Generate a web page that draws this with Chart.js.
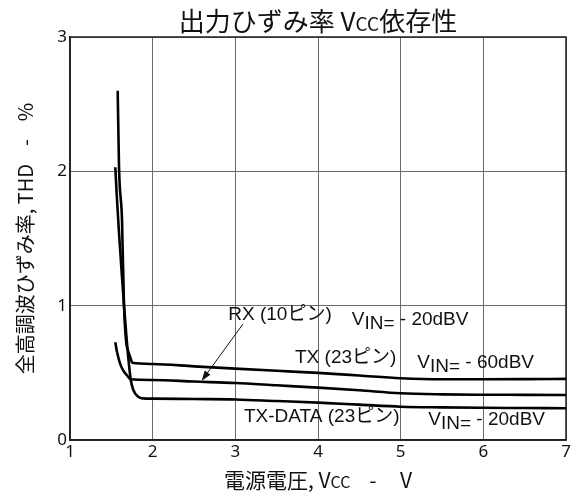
<!DOCTYPE html>
<html>
<head>
<meta charset="utf-8">
<script src="https://cdn.jsdelivr.net/npm/chart.js@4/dist/chart.umd.min.js"></script>
<style>
  html, body { margin: 0; padding: 0; background: #fff; }
  canvas { display: block; }
</style>
</head>
<body>
<canvas id="thd" width="577" height="495"></canvas>
<script>
// Axis ticks
const xTickValues = [1, 2, 3, 4, 5, 6, 7];
const yTickValues = [0, 1, 2, 3];

// TX (23 pin), VIN = -60 dBV
const txVcc = [1.577, 1.593, 1.629, 1.653, 1.677, 1.708, 1.732, 1.754, 2.0, 2.5, 3.0, 3.5, 4.0, 4.5, 5.0, 5.5, 6.0, 6.5, 7.0];
const txThd = [2.60, 2.03, 1.64, 1.005, 0.744, 0.655, 0.61, 0.575, 0.566, 0.548, 0.531, 0.515, 0.50, 0.48, 0.46, 0.452, 0.452, 0.453, 0.455];

// RX (10 pin), VIN = -20 dBV
const rxVcc = [1.548, 1.569, 1.605, 1.641, 1.686, 1.734, 2.0, 2.5, 3.0, 3.5, 4.0, 4.5, 5.0, 5.5, 6.0, 6.5, 7.0];
const rxThd = [0.727, 0.655, 0.571, 0.521, 0.484, 0.452, 0.447, 0.435, 0.424, 0.407, 0.39, 0.37, 0.348, 0.34, 0.337, 0.336, 0.335];

// TX-DATA (23 pin), VIN = -20 dBV
const txDataVcc = [1.548, 1.566, 1.592, 1.625, 1.653, 1.686, 1.734, 1.766, 1.826, 1.877, 2.0, 2.5, 3.0, 3.5, 4.0, 4.5, 5.0, 5.5, 6.0, 6.5, 7.0];
const txDataThd = [2.03, 1.82, 1.55, 1.25, 1.005, 0.744, 0.452, 0.372, 0.322, 0.31, 0.308, 0.305, 0.302, 0.29, 0.278, 0.263, 0.248, 0.243, 0.24, 0.238, 0.236];

const seriesNames = ['TX (23ピン)', 'RX (10ピン)', 'TX-DATA (23ピン)'];
const seriesInputs = ['- 60dBV', '- 20dBV', '- 20dBV'];

const CJK = '"Noto Sans CJK JP", "Noto Sans", sans-serif';
const LAT = '"Liberation Sans", Arial, "Noto Sans CJK JP", sans-serif';
const TICK = '"Noto Sans", "DejaVu Sans", sans-serif';

const toPoints = (xs, ys) => xs.map((x, i) => ({ x, y: ys[i] }));

// Label anchors (data units: left edge, baseline)
const labelAnchors = [
  { name: { x: 3.722, y: 0.571 }, input: { x: 5.201, y: 0.536 } },
  { name: { x: 2.915, y: 0.893 }, input: { x: 4.408, y: 0.856 } },
  { name: { x: 3.105, y: 0.136 }, input: { x: 5.334, y: 0.112 } }
];
// Leader arrow from the RX label to its curve (data units)
const rxArrow = { from: { x: 3.093, y: 0.864 }, to: { x: 2.593, y: 0.441 } };

function drawRuns(ctx, parts, x, y, align) {
  let total = 0;
  parts.forEach(p => { ctx.font = p.font; p.w = ctx.measureText(p.t).width; total += p.w; });
  let cx = align === 'center' ? x - total / 2 : x;
  parts.forEach(p => {
    ctx.font = p.font;
    ctx.fillText(p.t, cx, y + (p.dy || 0));
    cx += p.w;
  });
}

const framePlugin = {
  id: 'frame',
  beforeDatasetsDraw(chart) {
    const { ctx, chartArea: a } = chart;
    ctx.save();
    ctx.strokeStyle = '#222';
    ctx.lineWidth = 1.5;
    ctx.strokeRect(a.left, a.top, a.right - a.left, a.bottom - a.top);
    ctx.restore();
  }
};

const textPlugin = {
  id: 'texts',
  afterDraw(chart) {
    const { ctx, chartArea: a, scales } = chart;
    const sx = v => scales.x.getPixelForValue(v);
    const sy = v => scales.y.getPixelForValue(v);
    ctx.save();
    ctx.fillStyle = '#111';
    ctx.textAlign = 'left';
    ctx.textBaseline = 'alphabetic';

    // Title
    drawRuns(ctx, [
      { t: '出力ひずみ率 V', font: `26px ${CJK}` },
      { t: 'CC', font: `19px ${CJK}` },
      { t: '依存性', font: `26px ${CJK}` }
    ], (a.left + a.right) / 2, 31, 'center');

    // X axis title
    drawRuns(ctx, [
      { t: '電源電圧, V', font: `21px ${CJK}` },
      { t: 'CC', font: `16px ${CJK}` },
      { t: '    -     V', font: `21px ${CJK}` }
    ], (a.left + a.right) / 2, 488, 'center');

    // Y axis title
    ctx.save();
    ctx.translate(25, (a.top + a.bottom) / 2);
    ctx.rotate(-Math.PI / 2);
    ctx.textBaseline = 'middle';
    drawRuns(ctx, [
      { t: '全高調波ひずみ率, THD    -    %', font: `20px ${CJK}` }
    ], 0, 0, 'center');
    ctx.restore();

    // Series labels
    const f = `19px ${LAT}`;
    seriesNames.forEach((name, i) => {
      const an = labelAnchors[i];
      drawRuns(ctx, [{ t: name, font: f }], sx(an.name.x), sy(an.name.y), 'left');
      drawRuns(ctx, [
        { t: 'V', font: f },
        { t: 'IN=', font: f, dy: 4 },
        { t: ' ' + seriesInputs[i], font: f }
      ], sx(an.input.x), sy(an.input.y), 'left');
    });

    // Arrow
    const x1 = sx(rxArrow.from.x), y1 = sy(rxArrow.from.y);
    const x2 = sx(rxArrow.to.x), y2 = sy(rxArrow.to.y);
    const ang = Math.atan2(y2 - y1, x2 - x1);
    ctx.strokeStyle = '#111';
    ctx.lineWidth = 1;
    ctx.beginPath();
    ctx.moveTo(x1, y1);
    ctx.lineTo(x2 - 6 * Math.cos(ang), y2 - 6 * Math.sin(ang));
    ctx.stroke();
    ctx.beginPath();
    ctx.moveTo(x2, y2);
    ctx.lineTo(x2 - 10 * Math.cos(ang) + 3.5 * Math.sin(ang), y2 - 10 * Math.sin(ang) - 3.5 * Math.cos(ang));
    ctx.lineTo(x2 - 10 * Math.cos(ang) - 3.5 * Math.sin(ang), y2 - 10 * Math.sin(ang) + 3.5 * Math.cos(ang));
    ctx.closePath();
    ctx.fill();
    ctx.restore();
  }
};

const lineStyle = {
  showLine: true,
  borderColor: '#000',
  borderWidth: 2.6,
  pointRadius: 0,
  fill: false,
  cubicInterpolationMode: 'monotone'
};

new Chart(document.getElementById('thd'), {
  type: 'scatter',
  data: {
    datasets: [
      { label: seriesNames[0], data: toPoints(txVcc, txThd), ...lineStyle },
      { label: seriesNames[1], data: toPoints(rxVcc, rxThd), ...lineStyle },
      { label: seriesNames[2], data: toPoints(txDataVcc, txDataThd), ...lineStyle }
    ]
  },
  options: {
    responsive: false,
    animation: false,
    devicePixelRatio: 1,
    layout: { padding: { top: 37, right: 11, bottom: 0, left: 0 } },
    plugins: { legend: { display: false }, tooltip: { enabled: false }, title: { display: false } },
    scales: {
      x: {
        type: 'linear', min: 1, max: 7,
        afterBuildTicks: s => { s.ticks = xTickValues.map(v => ({ value: v })); },
        afterFit: s => { s.height = 55; },
        ticks: { color: '#111', font: { family: TICK, size: 17 }, padding: 2, maxRotation: 0 },
        grid: { color: '#6a6a6a', lineWidth: 1, drawTicks: false },
        border: { color: '#222', width: 1.5 }
      },
      y: {
        type: 'linear', min: 0, max: 3,
        afterBuildTicks: s => { s.ticks = yTickValues.map(v => ({ value: v })); },
        afterFit: s => { s.width = 70; },
        ticks: { color: '#111', font: { family: TICK, size: 17 }, padding: 3 },
        grid: { color: '#6a6a6a', lineWidth: 1, drawTicks: false },
        border: { color: '#222', width: 1.5 }
      }
    }
  },
  plugins: [framePlugin, textPlugin]
});
</script>
</body>
</html>
